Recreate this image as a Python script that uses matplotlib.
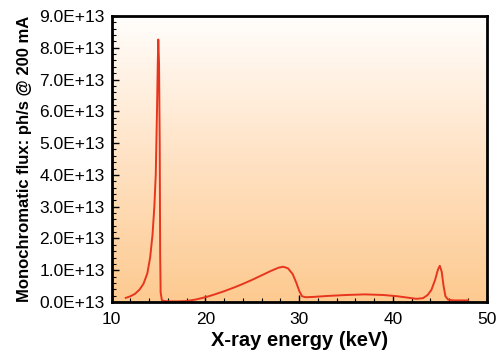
import numpy as np
import matplotlib
matplotlib.use("Agg")
from matplotlib import pyplot as plt
from matplotlib.colors import LinearSegmentedColormap
from matplotlib.ticker import MultipleLocator, FuncFormatter

# energy (keV) and flux (in units of 1E13 ph/s)
energy = [11.5, 12.0, 12.5, 13.0, 13.4, 13.8, 14.1, 14.35, 14.55, 14.7, 14.83, 14.92,
          14.97, 15.05, 15.12, 15.17, 15.22, 15.35, 15.6, 16.2, 17.0, 18.0, 19.0,
          20.0, 21.0, 22.0, 23.0, 24.0, 25.0, 26.0, 27.0, 27.8, 28.3, 28.8, 29.3,
          29.7, 30.0, 30.3, 30.7, 31.5, 33.0, 35.0, 37.0, 39.0, 40.5, 41.5, 42.5,
          43.2, 43.7, 44.1, 44.5, 44.8, 45.0, 45.2, 45.4, 45.6, 45.9, 46.5, 47.3, 48.0]
flux = [0.13, 0.18, 0.26, 0.40, 0.58, 0.90, 1.40, 2.10, 3.00, 4.00, 6.00, 7.60,
        8.26, 7.50, 5.00, 1.50, 0.30, 0.06, 0.03, 0.02, 0.02, 0.03, 0.08,
        0.15, 0.24, 0.34, 0.45, 0.57, 0.70, 0.84, 0.98, 1.08, 1.11, 1.06, 0.88,
        0.60, 0.35, 0.18, 0.15, 0.16, 0.19, 0.22, 0.24, 0.22, 0.18, 0.14, 0.10,
        0.12, 0.22, 0.38, 0.70, 1.02, 1.14, 0.95, 0.50, 0.18, 0.07, 0.05, 0.05, 0.05]

x_ticks = [10, 20, 30, 40, 50]
y_ticks = [0, 1, 2, 3, 4, 5, 6, 7, 8, 9]

plt.rcParams['font.family'] = ['Liberation Sans', 'DejaVu Sans']

fig = plt.figure(figsize=(4.99, 3.56), dpi=100)
ax = fig.add_axes([111.7 / 499, 1 - 302 / 356, 375 / 499, 286 / 356])

# background gradient, white at top to orange at bottom
cmap = LinearSegmentedColormap.from_list(
    "bg", [(0.0, "#fdca90"), (0.5, "#ffe2c4"), (1.0, "#fffefc")])
grad = np.linspace(0, 1, 256).reshape(-1, 1)
ax.imshow(grad, cmap=cmap, aspect="auto", origin="lower",
          extent=[10, 50, 0, 9], zorder=0)

ax.plot(energy, flux, color="#e8361e", lw=1.4, zorder=2)

ax.set_xlim(10, 50)
ax.set_ylim(0, 9)
ax.set_xticks(x_ticks)
ax.set_yticks(y_ticks)
ax.xaxis.set_minor_locator(MultipleLocator(2))
ax.yaxis.set_minor_locator(MultipleLocator(0.2))
ax.yaxis.set_major_formatter(FuncFormatter(lambda v, p: "%.1fE+13" % v))
ax.tick_params(which="both", direction="in", top=False, right=False)
ax.tick_params(which="major", length=5, width=1, labelsize=12.5)
ax.tick_params(which="minor", length=3, width=0.8)
ax.tick_params(axis="x", pad=7)
ax.tick_params(axis="y", pad=5)

for s in ax.spines.values():
    s.set_linewidth(2)

ax.set_xlabel("X-ray energy (keV)", fontsize=14.5, fontweight="bold", labelpad=3)
ax.set_ylabel("Monochromatic flux: ph/s @ 200 mA", fontsize=12,
              fontweight="bold", labelpad=5)

fig.savefig("out.png", dpi=100)
